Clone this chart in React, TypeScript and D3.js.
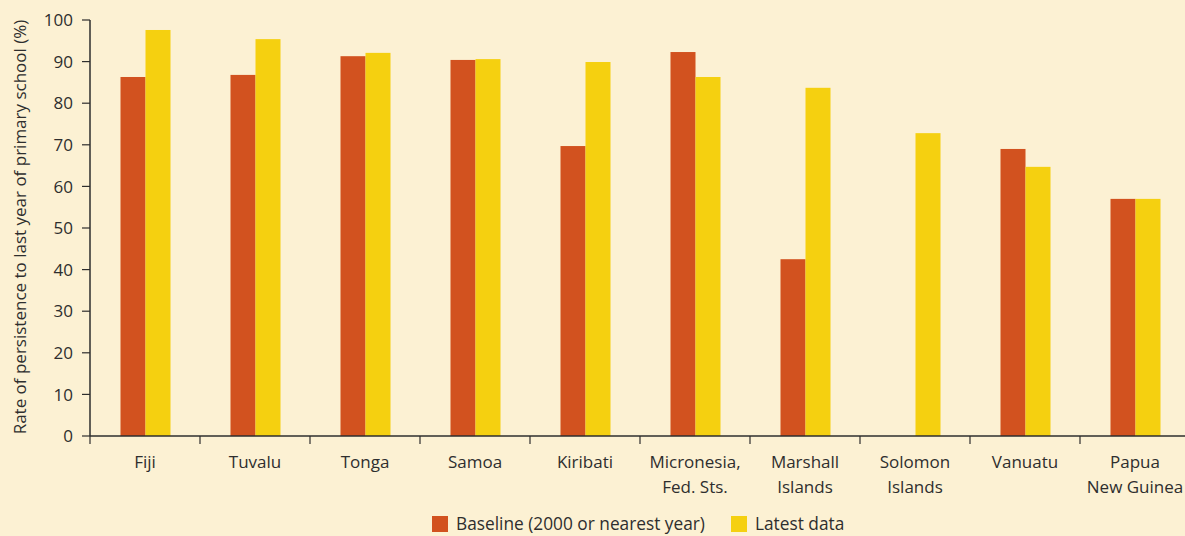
import React, { useEffect, useRef } from "react";
import * as d3 from "d3";

const categories = [
  "Fiji",
  "Tuvalu",
  "Tonga",
  "Samoa",
  "Kiribati",
  "Micronesia,\nFed. Sts.",
  "Marshall\nIslands",
  "Solomon\nIslands",
  "Vanuatu",
  "Papua\nNew Guinea",
];
const baseline: (number | null)[] = [86.3, 86.8, 91.3, 90.4, 69.7, 92.3, 42.5, null, 69.0, 57.0];
const latest: (number | null)[] = [97.6, 95.4, 92.1, 90.6, 89.9, 86.3, 83.7, 72.8, 64.7, 57.0];
const yTicks = [0, 10, 20, 30, 40, 50, 60, 70, 80, 90, 100];
const seriesNames = ["Baseline (2000 or nearest year)", "Latest data"];

const W = 1185;
const H = 536;
const BG = "#FCF1D3";
const ORANGE = "#D2521F";
const YELLOW = "#F5D010";
const INK = "#2e2e2e";
const FONT = "'Open Sans', 'Noto Sans', sans-serif";

export default function App() {
  const ref = useRef<SVGSVGElement>(null);
  useEffect(() => {
    const svg = d3.select(ref.current);
    svg.selectAll("*").remove();
    const left = 90, top = 20, bottom = 436;
    const x = d3.scaleBand<string>().domain(categories).range([left, left + 110 * categories.length]).padding(0);
    const y = d3.scaleLinear().domain([0, 100]).range([bottom, top]);
    const bw = 25;

    svg.append("rect").attr("width", W).attr("height", H).attr("fill", BG);

    const g = svg.append("g");
    categories.forEach((c, i) => {
      const cx = (x(c) as number) + x.bandwidth() / 2;
      const b = baseline[i];
      const l = latest[i];
      if (b != null) {
        g.append("rect").attr("x", cx - bw + 0.5).attr("width", bw).attr("y", y(b)).attr("height", bottom - y(b)).attr("fill", ORANGE);
      }
      if (l != null) {
        g.append("rect").attr("x", cx + 0.5).attr("width", bw).attr("y", y(l)).attr("height", bottom - y(l)).attr("fill", YELLOW);
      }
    });

    // y axis
    svg.append("line").attr("x1", left).attr("x2", left).attr("y1", top).attr("y2", bottom).attr("stroke", INK).attr("stroke-width", 1.5);
    yTicks.forEach((t) => {
      svg.append("line").attr("x1", left - 8).attr("x2", left).attr("y1", y(t)).attr("y2", y(t)).attr("stroke", INK).attr("stroke-width", 1.2);
      svg.append("text").attr("x", left - 17).attr("y", y(t)).attr("dy", "0.36em").attr("text-anchor", "end")
        .attr("font-family", FONT).attr("font-size", 17).attr("fill", INK).text(String(t));
    });

    // x axis
    svg.append("line").attr("x1", left).attr("x2", W).attr("y1", bottom).attr("y2", bottom).attr("stroke", INK).attr("stroke-width", 1.5);
    categories.forEach((c) => {
      const x0 = x(c) as number;
      svg.append("line").attr("x1", x0).attr("x2", x0).attr("y1", bottom).attr("y2", bottom + 8).attr("stroke", INK).attr("stroke-width", 1.2);
      const lines = c.split("\n");
      const t = svg.append("text").attr("text-anchor", "middle").attr("font-family", FONT).attr("font-size", 17).attr("fill", INK);
      lines.forEach((ln, k) => {
        t.append("tspan").attr("x", x0 + x.bandwidth() / 2).attr("y", 468 + k * 25).text(ln);
      });
    });

    // y label
    svg.append("text").attr("transform", `translate(26,227) rotate(-90)`).attr("text-anchor", "middle")
      .attr("font-family", FONT).attr("font-size", 17).attr("fill", INK)
      .text("Rate of persistence to last year of primary school (%)");

    // legend
    const lg = svg.append("g");
    const items = [
      { name: seriesNames[0], color: ORANGE, x: 432 },
      { name: seriesNames[1], color: YELLOW, x: 731 },
    ];
    items.forEach((it) => {
      lg.append("rect").attr("x", it.x).attr("y", 516).attr("width", 16).attr("height", 16).attr("fill", it.color);
      lg.append("text").attr("x", it.x + 24).attr("y", 530).attr("font-family", FONT).attr("font-size", 17.3).attr("fill", INK).text(it.name);
    });
  }, []);
  return (
    <svg ref={ref} width={W} height={H} style={{ position: "absolute", left: 0, top: 0, display: "block" }} />
  );
}
